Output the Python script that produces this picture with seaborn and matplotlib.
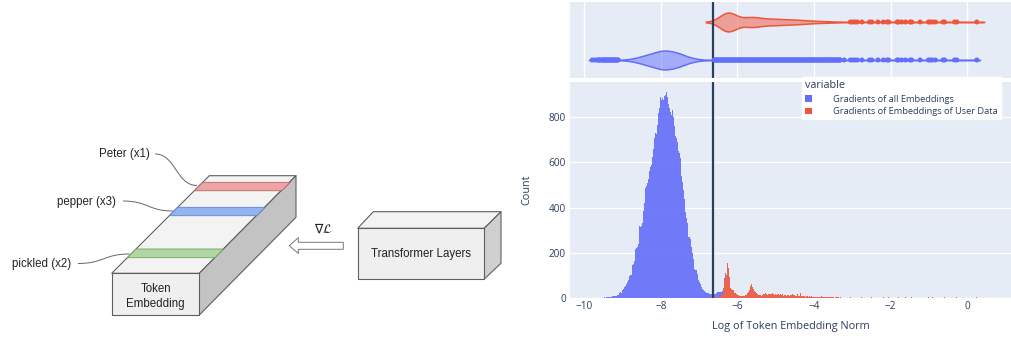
import numpy as np
import pandas as pd
import matplotlib
matplotlib.use("Agg")
import matplotlib.pyplot as plt
import seaborn as sns
from matplotlib.patches import Polygon, Patch, PathPatch
from matplotlib.path import Path
from matplotlib.colors import to_rgba

sns.set_theme(style="white")
plt.rcParams["font.family"] = ["Open Sans", "DejaVu Sans"]

# histogram data, bins of 0.02 on the log norm axis
BIN = 0.02
all_start = -9.80
all_counts = [
    1, 0, 0, 1, 0,  0, 1, 0, 2, 1,  2, 1, 0, 1, 2,  2, 3, 2, 4, 3,
    4, 3, 5, 4, 6,  5, 7, 6, 8, 7,  8, 10, 9, 12, 14,  19, 22, 27, 24, 30,
    34, 38, 49, 52, 59,  62, 70, 78, 90, 98,  100, 103, 120, 145, 150,
    163, 190, 219, 222, 226,  240, 322, 318, 315, 318,  322, 330, 384, 420, 460,
    488, 495, 510, 525, 547,  560, 581, 590, 610, 625,  660, 709, 700, 729, 724,
    765, 795, 820, 842, 891,  876, 870, 884, 878, 895,  906, 898, 913, 890, 869,
    860, 840, 822, 795, 810,  832, 800, 760, 721, 715,  706, 690, 662, 650, 640,
    620, 566, 540, 514, 478,  440, 410, 381, 355, 330,  300, 270, 268, 263, 240,
    226, 200, 174, 150, 130,  126, 123, 105, 93, 80,  71, 63, 56, 48, 41,
    37, 34, 30, 27, 24,  24, 22, 20, 19, 18,  17, 16, 15, 14, 14,
    14, 15, 16, 18, 20,  22, 20, 18, 20, 19,  17, 15, 12, 10, 8,
]
user_start = -6.64
user_counts = [
    2, 3,
    3, 4, 4, 5, 5,  6, 6, 7, 8, 9,  13, 28, 53, 77, 102,  100, 124, 156, 131, 94,
    62, 45, 38, 36, 35,  30, 24, 22, 18, 16,  13, 12, 10, 9, 9,  9, 8, 9, 10, 9,
    12, 15, 18, 22, 28,  35, 43, 52, 62, 50,  43, 38, 32, 26, 21,  19, 18, 15, 12, 12,
    12, 11, 12, 14, 16,  18, 24, 21, 19, 15,  16, 18, 20, 18, 17,  21, 19, 18, 15, 16,
    15, 14, 18, 17, 15,  14, 18, 12, 16, 13,  9, 15, 12, 18, 11,  14, 12, 16, 10, 13,
    12, 17, 11, 15, 12,  10, 14, 9, 16, 11,  12, 8, 21, 10, 9,  9, 7, 8, 6, 9,
    7, 8, 6, 7, 9,  6, 7, 8, 6, 5,  6, 5, 7, 6, 4,  5, 6, 4, 5, 7,
    4, 3, 4, 5, 4,  3, 4, 3, 4, 3,  4, 3, 3, 4, 3,  3, 2, 4, 3, 3,
    3, 2, 3, 2, 3,
]
user_tail_x = [-3.21, -3.05, -2.99, -2.93, -2.87, -2.75, -2.55, -2.49, -2.33, -2.19,
               -2.09, -2.05, -1.83, -1.79, -1.71, -1.61, -1.49, -1.45, -1.23, -1.01,
               -0.97, -0.91, -0.83, -0.63, -0.59, -0.33, -0.27, 0.25]
user_tail_n = [2, 3, 2, 3, 2, 3, 2, 3, 2, 3,
               2, 3, 8, 3, 2, 3, 2, 3, 2, 3,
               2, 3, 2, 3, 3, 2, 3, 3]
threshold = -6.64

labels = ["Gradients of all Embeddings", "Gradients of Embeddings of User Data"]
colors = ["#636efa", "#ef553b"]
x_ticks = [-10, -8, -6, -4, -2, 0]
y_ticks = [0, 200, 400, 600, 800]
TXT = "#2a3f5f"

all_x = np.round(all_start + BIN * (np.arange(len(all_counts)) + 0.5), 3)
user_x = np.round(user_start + BIN * (np.arange(len(user_counts)) + 0.5), 3)
user_x = np.concatenate([user_x, user_tail_x])
user_n = np.concatenate([user_counts, user_tail_n])

hist_df = pd.DataFrame({
    "value": np.concatenate([all_x, user_x]),
    "count": np.concatenate([all_counts, user_n]),
    "variable": [labels[0]] * len(all_x) + [labels[1]] * len(user_x),
})

# samples for the marginal violins
s_user = np.repeat(user_x, user_n)
s_all = np.concatenate([np.repeat(all_x, all_counts), s_user])
viol_df = pd.DataFrame({
    "value": np.concatenate([s_all, s_user]),
    "variable": [labels[0]] * len(s_all) + [labels[1]] * len(s_user),
})
out_rows = []
for lab, s in [(labels[0], s_all), (labels[1], s_user)]:
    q1, q3 = np.percentile(s, [25, 75])
    iqr = q3 - q1
    u = np.unique(s)
    for v in u[(u < q1 - 1.5 * iqr) | (u > q3 + 1.5 * iqr)]:
        out_rows.append((v, lab))
out_df = pd.DataFrame(out_rows, columns=["value", "variable"])

W, H = 1012, 339
fig = plt.figure(figsize=(W / 100, H / 100), dpi=100)
pal = dict(zip(labels, colors))
xlim = (-10.37, 1.17)

# ---------- histogram ----------
ax = fig.add_axes([570 / W, (H - 298) / H, 442 / W, 216 / H])
ax.set_facecolor("#e5ecf6")
sns.histplot(data=hist_df, x="value", weights="count", hue="variable",
             hue_order=labels, palette=pal, multiple="stack",
             binwidth=BIN, binrange=(-9.80, 0.60), alpha=0.9, linewidth=0,
             legend=False, ax=ax)
ax.set_xlim(*xlim)
ax.set_ylim(0, 956)
ax.set_xticks(x_ticks)
ax.set_yticks(y_ticks)
ax.grid(axis="y", color="white", lw=1)
ax.grid(axis="x", visible=False)
ax.set_axisbelow(True)
for sp in ax.spines.values():
    sp.set_visible(False)
ax.tick_params(length=0, labelsize=7.2, labelcolor=TXT)
ax.tick_params(axis="x", pad=2.5)
ax.tick_params(axis="y", pad=3)
ax.set_xlabel("Log of Token Embedding Norm", fontsize=7.8, color=TXT)
ax.set_ylabel("Count", fontsize=7.8, color=TXT)
ax.xaxis.set_label_coords(0.5, -0.108)
ax.yaxis.set_label_coords(-0.085, 0.5)
ax.axvline(threshold, color=TXT, lw=1.6)

# ---------- marginal violins ----------
axm = fig.add_axes([570 / W, (H - 78) / H, 442 / W, 76 / H])
axm.set_facecolor("#e5ecf6")
order = [labels[1], labels[0]]
sns.violinplot(data=viol_df, x="value", y="variable", hue="variable",
               order=order, hue_order=labels, palette=pal, saturation=1,
               density_norm="width", width=0.5, inner=None, cut=1,
               linewidth=1.1, legend=False, ax=axm)
for coll in axm.collections:
    rgb = coll.get_facecolor()[0][:3]
    coll.set_facecolor(to_rgba(rgb, 0.5))
    coll.set_edgecolor(to_rgba(rgb, 1))
sns.stripplot(data=out_df, x="value", y="variable", hue="variable",
              order=order, hue_order=labels, palette=pal, jitter=False,
              size=3.6, linewidth=0, legend=False, ax=axm)
axm.set_xlim(*xlim)
axm.set_ylim(1.474, -0.526)
axm.set_xticks(x_ticks)
axm.set_xticklabels([])
axm.set_yticks([])
axm.set_xlabel("")
axm.set_ylabel("")
axm.grid(axis="x", color="white", lw=1)
axm.set_axisbelow(True)
for sp in axm.spines.values():
    sp.set_visible(False)
axm.tick_params(length=0)
axm.axvline(threshold, color=TXT, lw=1.6)

handles = [Patch(facecolor=c, edgecolor="none", label=l) for c, l in zip(colors, labels)]
leg = fig.legend(handles=handles, title="variable", loc="upper left",
                 bbox_to_anchor=(802 / W, 1 - 77 / H), frameon=True,
                 fancybox=False, framealpha=1, edgecolor="white",
                 fontsize=6.7, title_fontsize=7.8, handlelength=0.75,
                 handleheight=0.75, handletextpad=2.3, borderpad=0.3,
                 labelspacing=0.4, borderaxespad=0)
leg._legend_box.align = "left"
for t in leg.get_texts():
    t.set_color(TXT)
leg.get_title().set_color(TXT)

# ---------- left diagram ----------
ax0 = fig.add_axes([0, 0, 520 / W, 1])
ax0.set_xlim(0, 520)
ax0.set_ylim(H, 0)
ax0.axis("off")
EDGE = "#5f5f5f"


def poly(pts, fc, lw=0.8, ec=EDGE):
    ax0.add_patch(Polygon(pts, closed=True, fc=fc, ec=ec, lw=lw, joinstyle="round"))


# token embedding block
poly([(111.7, 273.3), (199.3, 273.3), (296, 175.7), (209.3, 175.7)], "#f3f3f3")
poly([(199.3, 273.3), (199.3, 315), (296, 217.3), (296, 175.7)], "#c3c3c3")
poly([(111.7, 273.3), (199.3, 273.3), (199.3, 315), (111.7, 315)], "#efefef")


def stripe(t0, t1, fc, ec):
    d = 97.6
    y0 = 273.3 - d * t0
    y1 = 273.3 - d * t1
    poly([(111.7 + d * t0, y0), (199.3 + d * t0, y0),
          (199.3 + d * t1, y1), (111.7 + d * t1, y1)], fc, lw=0.6, ec=ec)


stripe(0.846, 0.932, "#eaa6a6", "#c45c5c")
stripe(0.59, 0.676, "#93b4ee", "#5b83d6")
stripe(0.16, 0.249, "#b2d6a3", "#6fa65a")


def leader(p0, p1):
    mx = (p0[0] + p1[0]) / 2
    path = Path([p0, (mx, p0[1]), (mx, p1[1]), p1],
                [Path.MOVETO, Path.CURVE4, Path.CURVE4, Path.CURVE4])
    ax0.add_patch(PathPatch(path, fc="none", ec="#666666", lw=0.7))


leader((155, 154), (197, 185.5))
leader((123, 201), (173, 211))
leader((78, 263.5), (129.5, 254))

txt = dict(family=["Liberation Sans", "DejaVu Sans"], fontsize=8.3, color="#222222")
ax0.text(150, 154, "Peter (x1)", ha="right", va="center", **txt)
ax0.text(116, 201.5, "pepper (x3)", ha="right", va="center", **txt)
ax0.text(71, 263.5, "pickled (x2)", ha="right", va="center", **txt)
ax0.text(155.7, 288.5, "Token", ha="center", va="center", **txt)
ax0.text(155.7, 303.5, "Embedding", ha="center", va="center", **txt)

# transformer block
poly([(357.7, 228.3), (373.3, 211.7), (501, 211.7), (484.3, 228.3)], "#f3f3f3")
poly([(484.3, 228.3), (501, 211.7), (501, 263.3), (484.3, 279)], "#cfcfcf")
poly([(357.7, 228.3), (484.3, 228.3), (484.3, 279), (357.7, 279)], "#efefef")
ax0.text(421, 253.5, "Transformer Layers", ha="center", va="center", **txt)

# gradient arrow
poly([(289.3, 245.7), (298.3, 237.7), (298.3, 242.3), (343.3, 242.3),
      (343.3, 249.3), (298.3, 249.3), (298.3, 253.5)], "white", lw=0.7, ec="#777777")
ax0.text(323.5, 229, r"$\nabla\mathcal{L}$", ha="center", va="center",
         fontsize=9, color="#222222")

fig.savefig("out.png", dpi=100, facecolor="white")
